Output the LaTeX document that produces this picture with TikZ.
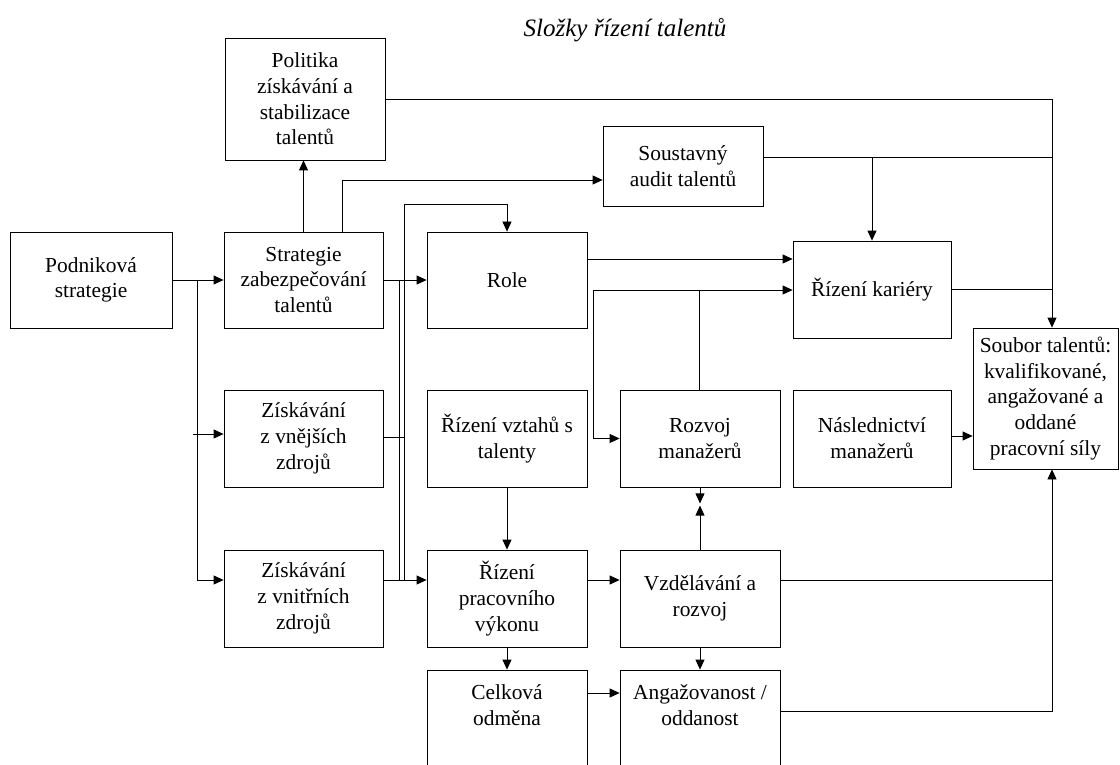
\documentclass[tikz,border=0pt]{standalone}
\usepackage{fontspec}
\setmainfont{Liberation Serif}
\usetikzlibrary{arrows.meta}
\begin{document}
\begin{tikzpicture}[x=1pt,y=-1pt,
  box/.style={draw, line width=0.8pt, align=center, inner sep=0pt, font=\fontsize{21.4}{25.7}\selectfont},
  txt/.style={align=center, inner sep=0pt, font=\fontsize{21.4}{25.7}\selectfont},
  sz/.style 2 args={minimum width=#1, minimum height=#2},
  ln/.style={line width=0.8pt},
  arr/.style={ln, -{Triangle[length=10pt,width=9pt]}}]
\useasboundingbox (0,0) rectangle (1120,765);
\node[font=\fontsize{25}{30}\selectfont\itshape] (title) at (625,30) {Složky řízení talentů};
% boxes
\node[box,sz={160pt}{122pt}] (pol) at (305,99) {Politika\\získávání a\\stabilizace\\talentů};
\node[box,sz={160pt}{80pt}] (aud) at (683,166) {Soustavný\\audit talentů};
\node[box,sz={162pt}{96pt}] (pod) at (91,280) {Podniková\\strategie};
\node[box,sz={159pt}{96pt}] (str) at (303.5,280) {Strategie\\zabezpečování\\talentů};
\node[box,sz={160pt}{96pt}] (role) at (507,280) {Role};
\node[box,sz={158pt}{97pt}] (kar) at (872,289.5) {Řízení kariéry};
\node[box,sz={145pt}{141pt}] (sou) at (1045.5,398.5) {Soubor talentů:\\kvalifikované,\\angažované a\\oddané\\pracovní síly};
\node[box,sz={159pt}{97pt}] (vne) at (303.5,438.5) {Získávání\\z vnějších\\zdrojů};
\node[box,sz={160pt}{97pt}] (vzt) at (507,438.5) {Řízení vztahů s\\talenty};
\node[box,sz={160pt}{97pt}] (roz) at (700,438.5) {Rozvoj\\manažerů};
\node[box,sz={158pt}{97pt}] (nas) at (872,438.5) {Následnictví\\manažerů};
\node[box,sz={159pt}{97pt}] (vni) at (303.5,598.5) {Získávání\\z vnitřních\\zdrojů};
\node[box,sz={160pt}{97pt}] (vyk) at (507,598.5) {Řízení\\pracovního\\výkonu};
\node[box,sz={160pt}{97pt}] (vzd) at (700,598.5) {Vzdělávání a\\rozvoj};
\node[box,sz={160pt}{97pt}] (cel) at (507,718.5) {};
\node[txt] (celt) at (507,705) {Celková\\odměna};
\node[box,sz={160pt}{97pt}] (ang) at (700,718.5) {};
\node[txt] (angt) at (700,705) {Angažovanost /\\oddanost};
% junction coordinates
\coordinate (jL) at (197,280);
\coordinate (jE) at (193,434);
\coordinate (jA) at (399,280);
\coordinate (jB) at (404,580);
\coordinate (jC) at (593,290);
\coordinate (jD) at (872,157);
% connectors
\draw[arr] (pod) -- (str);
\draw[arr] (jL) |- (vni.west |- 0,580);
\draw[arr] (jE) -- (vne.west |- 0,434);
\draw[arr] (str.north) -- (str.north |- pol.south);
\draw[arr] (str.north -| 342,0) |- (aud.west |- 0,180);
\draw[arr] (str) -- (role);
\draw[ln] (jA) -- (399,580);
\draw[arr] (vni.east |- 0,580) -- (vyk.west |- 0,580);
\draw[arr] (jB) |- (507,204) -- (role.north);
\draw[ln] (vne.east |- 0,437) -- (404,437);
\draw[arr] (role.east |- 0,259) -- (kar.west |- 0,259);
\draw[arr] (roz.north -| 699,0) |- (kar.west |- 0,290);
\draw[ln] (jC) -- (699,290);
\draw[arr] (jC) |- (roz.west);
\draw[arr] (pol.east) -| (sou.north -| 1052,0);
\draw[ln] (aud.east |- 0,157) -- (1052,157);
\draw[arr] (jD) -- (kar.north);
\draw[ln] (kar.east) -- (kar.east -| 1052,0);
\draw[arr] (nas.east |- 0,436) -- (sou.west |- 0,436);
\draw[arr] (roz.south) -- ++(0,16);
\draw[arr] (vzd.north) -- ++(0,-44);
\draw[arr] (vzt) -- (vyk);
\draw[arr] (vyk.east |- 0,580) -- (vzd.west |- 0,580);
\draw[arr] (vyk) -- (cel);
\draw[arr] (vzd) -- (ang);
\draw[arr] (cel.east |- 0,693) -- (ang.west |- 0,693);
\draw[ln] (vzd.east |- 0,580) -- (1052,580);
\draw[arr] (ang.east |- 0,711) -| (sou.south -| 1052,0);
\end{tikzpicture}
\end{document}
